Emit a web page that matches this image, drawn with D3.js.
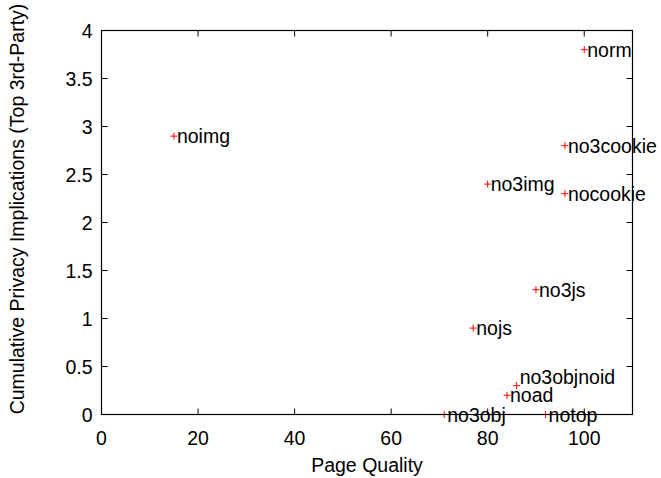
<!DOCTYPE html>
<html>
<head>
<meta charset="utf-8">
<script src="https://cdn.jsdelivr.net/npm/d3@7/dist/d3.min.js"></script>
<style>
body{margin:0;background:#fff;}
text{font-family:"Liberation Sans",Arial,Helvetica,sans-serif;}
</style>
</head>
<body>
<svg id="c" width="661" height="478"></svg>
<script>
const names = ["norm","noimg","no3cookie","no3img","nocookie","no3js","nojs","no3objnoid","noad","no3obj","notop"];
const quality = [100, 15, 96, 80, 96, 90, 77, 86, 84, 71, 92];
const privacy = [3.8, 2.9, 2.8, 2.4, 2.3, 1.3, 0.9, 0.3, 0.2, 0, 0];
const xTicks = [0,20,40,60,80,100];
const yTicks = [0,0.5,1,1.5,2,2.5,3,3.5,4];

const svg = d3.select("#c");
const L=101.5, R=632.5, T=30.5, B=414.5;
const x = d3.scaleLinear().domain([0,110]).range([L,R]);
const y = d3.scaleLinear().domain([0,4]).range([B,T]);
const fs = 19.5;

// ticks
const tl = 6;
const g = svg.append("g").attr("stroke","#000").attr("stroke-width",1);
xTicks.forEach(t=>{
  g.append("line").attr("x1",x(t)).attr("x2",x(t)).attr("y1",B).attr("y2",B-tl);
  g.append("line").attr("x1",x(t)).attr("x2",x(t)).attr("y1",T).attr("y2",T+tl);
});
yTicks.forEach(t=>{
  g.append("line").attr("x1",L).attr("x2",L+tl).attr("y1",y(t)).attr("y2",y(t));
  g.append("line").attr("x1",R).attr("x2",R-tl).attr("y1",y(t)).attr("y2",y(t));
});

svg.selectAll("text.xt").data(xTicks).join("text").attr("class","xt")
  .attr("x",d=>x(d)).attr("y",B+30).attr("text-anchor","middle").attr("font-size",fs).text(d=>d);
svg.selectAll("text.yt").data(yTicks).join("text").attr("class","yt")
  .attr("x",L-9).attr("y",d=>y(d)+7).attr("text-anchor","end").attr("font-size",fs).text(d=>d);

svg.append("text").attr("x",(L+R)/2).attr("y",472).attr("text-anchor","middle").attr("font-size",fs).text("Page Quality");
svg.append("text").attr("transform",`translate(24,209) rotate(-90)`).attr("text-anchor","middle")
  .attr("font-size",fs).text("Cumulative Privacy Implications (Top 3rd-Party)");

// points
const pts = names.map((n,i)=>({n, q:quality[i], p:privacy[i]}));
const ps = 3.5;
const pg = svg.append("g").attr("stroke","#ff0000").attr("stroke-width",1);
pts.forEach(d=>{
  const cx=x(d.q), cy=y(d.p);
  pg.append("line").attr("x1",cx-ps).attr("x2",cx+ps).attr("y1",cy).attr("y2",cy);
  pg.append("line").attr("x1",cx).attr("x2",cx).attr("y1",cy-ps).attr("y2",cy+ps);
});
svg.selectAll("text.lb").data(pts).join("text").attr("class","lb")
  .attr("x",d=>x(d.q)+3).attr("y",d=>y(d.p)+7 - (d.n==="no3objnoid"?9:0)).attr("font-size",fs).attr("fill","#000").text(d=>d.n);

svg.append("rect").attr("x",L).attr("y",T).attr("width",R-L).attr("height",B-T)
  .attr("fill","none").attr("stroke","#000").attr("stroke-width",1.2);
</script>
</body>
</html>
